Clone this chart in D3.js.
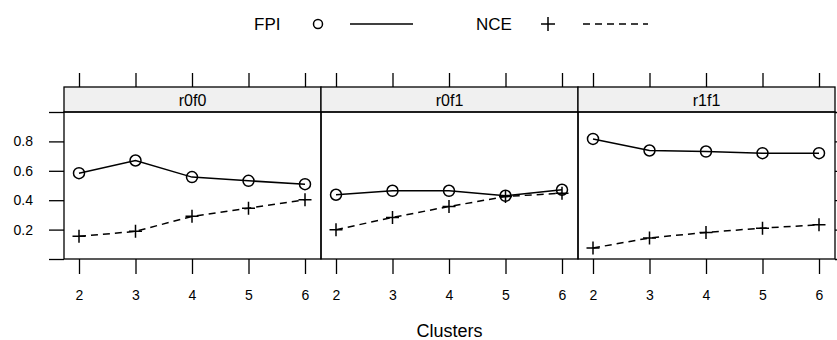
<!DOCTYPE html>
<html>
<head>
<meta charset="utf-8">
<script src="https://cdn.jsdelivr.net/npm/d3@7"></script>
<style>
  body { margin: 0; background: #fff; }
  svg text { font-family: 'Liberation Sans', Arial, sans-serif; fill: #000; }
</style>
</head>
<body>
<div id="chart"></div>
<script>
// data
const panels = ['r0f0', 'r0f1', 'r1f1'];
const clusters = [2, 3, 4, 5, 6];
const fpi = [
  [0.584, 0.670, 0.557, 0.532, 0.509],
  [0.437, 0.464, 0.464, 0.430, 0.471],
  [0.817, 0.738, 0.731, 0.720, 0.720]
];
const nce = [
  [0.154, 0.188, 0.290, 0.346, 0.403],
  [0.199, 0.283, 0.357, 0.425, 0.448],
  [0.075, 0.143, 0.181, 0.210, 0.233]
];
const yTicks = [0, 0.2, 0.4, 0.6, 0.8, 1];
const yLabels = ['0.2', '0.4', '0.6', '0.8'];

const width = 837;
const height = 340;
const left = 64, right = 835;
const stripTop = 87, panelTop = 112, panelBottom = 259;
const panelW = (right - left) / panels.length;

const svg = d3.select('#chart')
  .append('svg')
  .attr('width', width)
  .attr('height', height);

const y = d3.scaleLinear().domain([0, 1]).range([panelBottom, panelTop]);

const lineGen = d3.line();

// left y axis
const yAxis = svg.append('g')
  .attr('transform', `translate(${left},0)`)
  .call(d3.axisLeft(y).tickValues(yTicks).tickSize(15).tickPadding(16)
    .tickFormat(d => yLabels.includes(d3.format('.1f')(d)) ? d3.format('.1f')(d) : ''));
yAxis.select('.domain').remove();
yAxis.selectAll('line').attr('stroke', '#000').attr('stroke-width', 1.3);
yAxis.selectAll('text').style('font-size', '14px').attr('font-family', null);

// right y axis (ticks only, mostly off canvas)
const yAxisR = svg.append('g')
  .attr('transform', `translate(${right},0)`)
  .call(d3.axisRight(y).tickValues(yTicks).tickSize(15).tickFormat(''));
yAxisR.select('.domain').remove();
yAxisR.selectAll('line').attr('stroke', '#000').attr('stroke-width', 1.3);

panels.forEach((name, i) => {
  const x0 = left + i * panelW;
  const x = d3.scaleLinear().domain([2, 6]).range([x0 + 15, x0 + panelW - 16]);
  const g = svg.append('g').attr('class', 'panel');

  // strip
  g.append('rect')
    .attr('x', x0).attr('y', stripTop)
    .attr('width', panelW).attr('height', panelTop - stripTop)
    .attr('fill', '#f0f0f0').attr('stroke', '#000').attr('stroke-width', 1.3);
  g.append('text')
    .attr('x', x0 + panelW / 2).attr('y', panelTop - 6)
    .attr('text-anchor', 'middle')
    .style('font-size', '16px')
    .text(name);

  // panel box
  g.append('rect')
    .attr('x', x0).attr('y', panelTop)
    .attr('width', panelW).attr('height', panelBottom - panelTop)
    .attr('fill', 'none').attr('stroke', '#000').attr('stroke-width', 1.3);

  // bottom axis
  const xb = g.append('g')
    .attr('transform', `translate(0,${panelBottom})`)
    .call(d3.axisBottom(x).tickValues(clusters).tickSize(15).tickPadding(16).tickFormat(d3.format('d')));
  xb.select('.domain').remove();
  xb.selectAll('line').attr('stroke', '#000').attr('stroke-width', 1.3);
  xb.selectAll('text').style('font-size', '14px').attr('font-family', null);

  // top ticks
  const xt = g.append('g')
    .attr('transform', `translate(0,${stripTop})`)
    .call(d3.axisTop(x).tickValues(clusters).tickSize(14).tickFormat(''));
  xt.select('.domain').remove();
  xt.selectAll('line').attr('stroke', '#000').attr('stroke-width', 1.3);

  // FPI series
  const pf = clusters.map((c, j) => [x(c), y(fpi[i][j])]);
  g.append('path')
    .attr('d', lineGen(pf))
    .attr('fill', 'none').attr('stroke', '#000').attr('stroke-width', 1.5);
  g.selectAll('circle.fpi')
    .data(pf)
    .enter().append('circle')
      .attr('class', 'fpi')
      .attr('cx', d => d[0]).attr('cy', d => d[1])
      .attr('r', 5.5)
      .attr('fill', 'none').attr('stroke', '#000').attr('stroke-width', 1.5);

  // NCE series
  const pn = clusters.map((c, j) => [x(c), y(nce[i][j])]);
  g.append('path')
    .attr('d', lineGen(pn))
    .attr('fill', 'none').attr('stroke', '#000').attr('stroke-width', 1.5)
    .attr('stroke-dasharray', '7,5');
  g.selectAll('path.nce')
    .data(pn)
    .enter().append('path')
      .attr('class', 'nce')
      .attr('d', d => `M${d[0] - 6.5},${d[1]}H${d[0] + 6.5}M${d[0]},${d[1] - 6.5}V${d[1] + 6.5}`)
      .attr('stroke', '#000').attr('stroke-width', 1.5);
});

// x axis title
svg.append('text')
  .attr('x', (left + right) / 2 + 0).attr('y', 337)
  .attr('text-anchor', 'middle')
  .style('font-size', '18px')
  .text('Clusters');

// legend
const legend = svg.append('g').attr('class', 'legend');
const ly = 24;
legend.append('text').attr('x', 254).attr('y', ly + 6).style('font-size', '17px').text('FPI');
legend.append('circle').attr('cx', 318).attr('cy', ly).attr('r', 4.5)
  .attr('fill', 'none').attr('stroke', '#000').attr('stroke-width', 1.5);
legend.append('line').attr('x1', 350).attr('x2', 413).attr('y1', ly).attr('y2', ly)
  .attr('stroke', '#000').attr('stroke-width', 1.5);
legend.append('text').attr('x', 476).attr('y', ly + 6).style('font-size', '17px').text('NCE');
legend.append('path')
  .attr('d', `M${548 - 7},${ly}H${548 + 7}M548,${ly - 7}V${ly + 7}`)
  .attr('stroke', '#000').attr('stroke-width', 1.5);
legend.append('line').attr('x1', 583).attr('x2', 648).attr('y1', ly).attr('y2', ly)
  .attr('stroke', '#000').attr('stroke-width', 1.5).attr('stroke-dasharray', '7,5');
</script>
</body>
</html>
